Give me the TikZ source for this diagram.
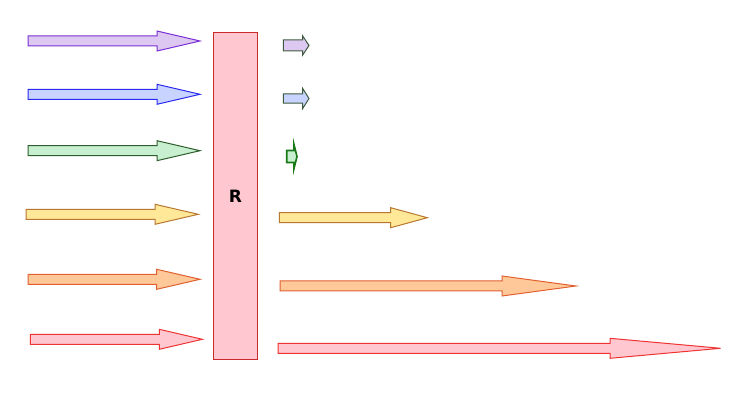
\documentclass[tikz,border=0pt]{standalone}
\usepackage{fontspec}
\setmainfont{DejaVu Sans}
\definecolor{purS}{HTML}{7A2FD6}\definecolor{purF}{HTML}{DCC8F0}
\definecolor{bluS}{HTML}{2A2AF0}\definecolor{bluF}{HTML}{C8D4FF}
\definecolor{grnS}{HTML}{2E5E2E}\definecolor{grnF}{HTML}{C8F0D0}
\definecolor{yelS}{HTML}{B87830}\definecolor{yelF}{HTML}{FFE898}
\definecolor{orgS}{HTML}{E06030}\definecolor{orgF}{HTML}{FFC898}
\definecolor{redS}{HTML}{EE3333}\definecolor{redF}{HTML}{FFC8D0}
\definecolor{boxS}{HTML}{CC2A2A}
\definecolor{smS}{HTML}{3E5A3E}
\definecolor{tinyS}{HTML}{1A7A1A}
% #1 style, #2 left x, #3 head base x, #4 tip x, #5 center y, #6 half shaft, #7 half head
\newcommand\barrow[7]{%
  \draw[#1] (#2,#5-#6) -- (#3,#5-#6) -- (#3,#5-#7) -- (#4,#5) -- (#3,#5+#7)
    -- (#3,#5+#6) -- (#2,#5+#6) -- cycle;}
\tikzset{
  arr/.style={line width=1pt, line join=miter},
}
\begin{document}
\begin{tikzpicture}[x=1pt,y=-1pt]
\useasboundingbox (0,0) rectangle (740,401);
% left arrows
\barrow{arr,draw=purS,fill=purF}{28}{157}{200}{41}{5}{10}
\barrow{arr,draw=bluS,fill=bluF}{28}{157}{200}{94.3}{5}{10}
\barrow{arr,draw=grnS,fill=grnF}{28}{157}{200}{150.7}{5}{10}
\barrow{arr,draw=yelS,fill=yelF}{26}{155}{198.3}{214.3}{5}{10}
\barrow{arr,draw=orgS,fill=orgF}{28}{156.7}{200}{279.3}{5}{10}
\barrow{arr,draw=redS,fill=redF}{30.3}{159.3}{202.3}{339.3}{5}{10}
% reactor box
\node[draw=boxS, fill=redF, line width=1pt, minimum width=44.3pt, minimum height=327.3pt,
  inner sep=0pt] (R) at (235.5,196.3) {};
\node[font=\bfseries, scale=1.7] (Rlabel) at (R.center) {R};
% right arrows
\barrow{arr,draw=smS,fill=purF}{283.3}{302.7}{309}{45.5}{5.5}{9.5}
\barrow{arr,draw=smS,fill=bluF}{283.3}{302.7}{309}{98.5}{4.7}{10}
\barrow{line width=1.6pt,draw=tinyS,fill=grnF}{286.7}{294}{297}{156.5}{6}{12}
\barrow{arr,draw=yelS,fill=yelF}{279.3}{390.7}{427.3}{217.7}{5}{10}
\barrow{arr,draw=orgS,fill=orgF}{280}{502}{576}{286}{5}{10}
\barrow{arr,draw=redS,fill=redF}{278}{610}{720.7}{348.3}{5}{10}
\end{tikzpicture}
\end{document}
